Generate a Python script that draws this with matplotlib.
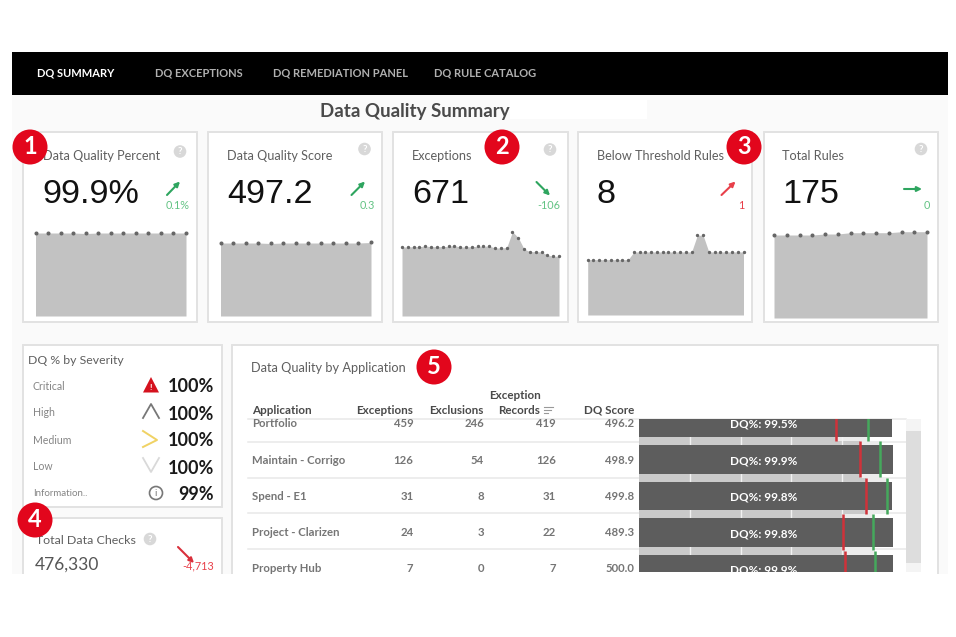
#!/usr/bin/python
# Data quality dashboard screenshot, redrawn in matplotlib

import matplotlib

matplotlib.use("Agg")
import matplotlib.pyplot as plt
from matplotlib.patches import Circle, Rectangle, Polygon

plt.rcParams['font.family'] = ['Lato', 'DejaVu Sans']

# KPI cards
kpiTitles = ['Data Quality Percent', 'Data Quality Score', 'Exceptions', 'Below Threshold Rules', 'Total Rules']
kpiValues = ['99.9%', '497.2', '671', '8', '175']
kpiDeltas = ['0.1%', '0.3', '-106', '1', '0']

# Sparkline heights
sparkPercent = [83, 83, 83, 83, 82.5, 83, 83, 83, 83, 83, 83, 83, 83]
sparkScore = [73, 73, 73, 73, 72.5, 73, 73, 73, 73, 73, 73, 73, 73.5]
sparkExceptions = [69, 69, 69.3, 69.3, 70, 69.3, 69.3, 69.3, 69.7, 70.3, 69, 69, 69.3, 69.7, 69.7, 70,
                   68, 68, 68.3, 84.3, 78.3, 67, 64.3, 64.3, 64, 61, 59.7, 59.7]
sparkBelow = [55.3, 55.3, 55.3, 55.3, 55.3, 55.3, 55.3, 55.3, 63, 63, 63, 63, 63, 63, 63, 63, 63, 63, 63,
              79.7, 79.7, 63, 63, 63, 63, 63, 63, 63]
sparkTotal = [83, 83, 83, 83, 84, 84, 85.3, 85.3, 85.3, 85.3, 86.3, 86.3, 86.3]

# Severity panel
severityNames = ['Critical', 'High', 'Medium', 'Low', 'Information..']
severityValues = ['100%', '100%', '100%', '100%', '99%']

# Application table
applications = ['Portfolio', 'Maintain - Corrigo', 'Spend - E1', 'Project - Clarizen', 'Property Hub']
exceptionCounts = [459, 126, 31, 24, 7]
exclusions = [246, 54, 8, 3, 0]
exceptionRecords = [419, 126, 31, 22, 7]
dqScores = [496.2, 498.9, 499.8, 489.3, 500.0]
dqPercents = [99.5, 99.9, 99.8, 99.8, 99.9]
barValues = [99.8, 100, 99.5, 100, 100]
redTargets = [77.6, 87.0, 89.5, 80.3, 81.2]
greenTargets = [90.2, 95.0, 97.6, 92.2, 92.9]

W, H = 956, 637
GREEN = '#2ea55f'
GREEN_TEXT = '#63c384'
RED = '#e8404a'
BADGE = '#e2061c'
CARD_EDGE = '#e2e2e2'
TITLE_GREY = '#5f5f5f'

fig = plt.figure(figsize=(W / 100, H / 100), dpi=100, facecolor='white')
page = fig.add_axes([0, 0, 1, 1])  # the whole page, in pixels
page.set_xlim(0, W)
page.set_ylim(H, 0)
page.axis('off')


def box(x0, y0, x1, y1, face='white', edge=CARD_EDGE, lw=1.4, z=1):
    page.add_patch(Rectangle((x0, y0), x1 - x0, y1 - y0, facecolor=face, edgecolor=edge, linewidth=lw, zorder=z))


def helpIcon(x, y):
    page.add_patch(Circle((x, y), 6.3, facecolor='#d8d8d8', edgecolor='none', zorder=3))
    page.text(x, y, '?', color='white', fontsize=7, fontweight='bold', ha='center', va='center', zorder=4)


def badge(x, y, label):
    page.add_patch(Circle((x, y), 17.5, facecolor=BADGE, edgecolor='none', zorder=8))
    page.text(x, y - 0.5, label, color='white', fontsize=17, fontweight='bold', ha='center', va='center', zorder=9)


def trend(x0, y0, x1, y1, color):
    page.annotate('', xy=(x1, y1), xytext=(x0, y0), zorder=5,
                  arrowprops=dict(arrowstyle='-|>', color=color, lw=1.5, mutation_scale=7, shrinkA=0, shrinkB=0))


def spark(x0, x1, bottom, values):
    height = 95
    ax = fig.add_axes([x0 / W, 1 - bottom / H, (x1 - x0) / W, height / H], zorder=2)
    ax.patch.set_alpha(0)
    xs = list(range(len(values)))
    size = 1.9 if len(values) < 20 else 1.4
    ax.fill_between(xs, values, 0, color='#c2c2c2', linewidth=0)
    ax.plot(xs, values, linestyle='none', marker='o', markersize=size, color='#666666', clip_on=False)
    ax.set_xlim(0, len(values) - 1)
    ax.set_ylim(0, height)
    ax.axis('off')


# Page background and nav bar
page.add_patch(Rectangle((12, 94), 936, 480, facecolor='#fafafa', edgecolor='none', zorder=0))
page.add_patch(Rectangle((12.5, 52), 935.5, 42.5, facecolor='black', edgecolor='none', zorder=1))
navLabels = ['DQ SUMMARY', 'DQ EXCEPTIONS', 'DQ REMEDIATION PANEL', 'DQ RULE CATALOG']
navX = [37.5, 155, 273, 434]
for i in range(4):
    page.text(navX[i], 73, navLabels[i], color='white' if i == 0 else '#b0b0b0', fontsize=8,
              fontweight='bold', va='center', zorder=2)

page.add_patch(Rectangle((510, 100), 137, 19, facecolor='white', edgecolor='none', zorder=1))
page.text(415, 111.5, 'Data Quality Summary', color='#4a4a4a', fontsize=13.5, fontweight='bold',
          ha='center', va='center', zorder=2)

# KPI cards
cardX = [(23.5, 197), (208.5, 382), (393, 568), (578, 752), (764, 938)]
titleX = [43, 227, 412, 597, 782]
valueX = [42, 227, 412, 597, 782]
deltaRight = [190, 375, 560, 744.5, 930]
helpPos = [(180, 151.5), (364.5, 149), (550, 149.5), None, (921, 149)]
arrows = [(167, 195, 180, 181.5), (351.5, 195, 365, 181.5), (536.5, 182, 550, 195.5),
          (721.5, 195, 735.5, 181.5), (904, 189, 922, 189)]
sparkX = [(35.5, 186), (220.5, 371), (402, 559), (587.7, 743.5), (774, 927)]
sparkBottom = [316, 316, 316, 315, 318]
sparkData = [sparkPercent, sparkScore, sparkExceptions, sparkBelow, sparkTotal]
for i in range(5):
    box(cardX[i][0], 132, cardX[i][1], 322)
    page.text(titleX[i], 155.5, kpiTitles[i], color=TITLE_GREY, fontsize=9.1, va='center', zorder=3)
    page.text(valueX[i], 194.5, kpiValues[i], color='#111111', fontsize=24.6, va='center', zorder=3,
              family=['Liberation Sans', 'DejaVu Sans'])
    badColor = i == 3
    page.text(deltaRight[i], 205.5, kpiDeltas[i], color=RED if badColor else GREEN_TEXT, fontsize=7.8,
              ha='right', va='center', zorder=3)
    if helpPos[i] is not None:
        helpIcon(helpPos[i][0], helpPos[i][1])
    a = arrows[i]
    trend(a[0], a[1], a[2], a[3], RED if badColor else GREEN)
    spark(sparkX[i][0], sparkX[i][1], sparkBottom[i], sparkData[i])

# DQ % by severity
box(23, 345, 222, 507)
page.text(28, 360, 'DQ % by Severity', color=TITLE_GREY, fontsize=8.8, va='center', zorder=3)
severityY = [386, 413, 440, 467, 493]
for i in range(5):
    page.text(33, severityY[i], severityNames[i], color='#858585', fontsize=7.6 if i < 4 else 7, va='center', zorder=3)
    page.text(214, severityY[i] + 1, severityValues[i], color='#1a1a1a', fontsize=13, fontweight='bold',
              ha='right', va='center', zorder=3)
# severity icons
page.add_patch(Polygon([(143, 392.5), (159, 392.5), (151, 377)], closed=True, facecolor='#d5121e', edgecolor='none', zorder=3))
page.text(151, 387.5, '!', color='white', fontsize=6, fontweight='bold', ha='center', va='center', zorder=4)
page.plot([143, 151, 159], [418, 404, 418], color='#777777', lw=1.3, zorder=3)
page.plot([143, 157, 143], [431, 440, 447], color='#f0d264', lw=1.4, zorder=3)
page.plot([143, 151, 159], [458, 472, 458], color='#d9d9d9', lw=1.3, zorder=3)
page.add_patch(Circle((156, 493), 6.5, facecolor='white', edgecolor='#777777', linewidth=1.2, zorder=3))
page.text(156, 493, 'i', color='#777777', fontsize=7, ha='center', va='center', zorder=4)

# Total data checks
box(23, 518, 222, 590)
page.text(36, 541, 'Total Data Checks', color=TITLE_GREY, fontsize=8.9, va='center', zorder=3)
helpIcon(150, 539)
page.text(34.5, 565, '476,330', color='#555555', fontsize=12.5, va='center', zorder=3)
trend(178, 547, 194, 563, '#d9303c')
page.text(214, 566, '-4,713', color=RED, fontsize=7.8, ha='right', va='center', zorder=3)

# Data quality by application
box(232.5, 345, 938, 590)
page.text(251, 367.5, 'Data Quality by Application', color=TITLE_GREY, fontsize=9.2, va='center', zorder=3)

headY = 410
page.text(252.5, headY, 'Application', color='#4a4a4a', fontsize=8.4, fontweight='bold', va='center', zorder=3)
page.text(413.5, headY, 'Exceptions', color='#4a4a4a', fontsize=8.4, fontweight='bold', ha='right', va='center', zorder=3)
page.text(484, headY, 'Exclusions', color='#4a4a4a', fontsize=8.4, fontweight='bold', ha='right', va='center', zorder=3)
page.text(515.5, 395.5, 'Exception', color='#4a4a4a', fontsize=8.4, fontweight='bold', ha='center', va='center', zorder=3)
page.text(540.5, headY, 'Records', color='#4a4a4a', fontsize=8.4, fontweight='bold', ha='right', va='center', zorder=3)
page.text(634, headY, 'DQ Score', color='#4a4a4a', fontsize=8.4, fontweight='bold', ha='right', va='center', zorder=3)
# the little sort icon next to Records
page.plot([544, 553], [407, 407], color='#999999', lw=0.8, zorder=3)
page.plot([544, 551], [410, 410], color='#999999', lw=0.8, zorder=3)
page.plot([544, 548], [413, 413], color='#999999', lw=0.8, zorder=3)

for lineY in [418.5, 441.7, 477.7, 513.3, 549]:
    page.plot([248, 906], [lineY, lineY], color='#e8e8e8', lw=1.1, zorder=2)

# the table body scrolls, rows are cut at the top and bottom of this window
scrollClip = Rectangle((240, 419), 700, 153, transform=page.transData)
rowY = [423.5, 460, 496.5, 532.5, 568.5]
for i in range(5):
    cells = [(252.5, applications[i], 'left'), (413.5, str(exceptionCounts[i]), 'right'), (484, str(exclusions[i]), 'right'),
             (556, str(exceptionRecords[i]), 'right'), (634, '%.1f' % dqScores[i], 'right')]
    for cell in cells:
        t = page.text(cell[0], rowY[i], cell[1], color='#757575', fontsize=8.2, fontweight='bold',
                      ha=cell[2], va='center', zorder=3)
        t.set_clip_path(scrollClip)

# bullet bars
bars = fig.add_axes([639 / W, 1 - 572 / H, 254 / W, 153 / H], zorder=3)
bars.patch.set_alpha(0)
rows = list(range(5))
bars.barh(rows, greenTargets, height=1.0, color='#ececec', zorder=1)
bars.barh(rows, redTargets, height=1.0, color='#cacaca', zorder=1.5)
bars.vlines([20, 40, 60, 80], -0.5, 4.5, color='#f2f2f2', lw=1, zorder=2)
bars.barh(rows, barValues, height=0.77, color='#5d5d5d', zorder=3)
for i in rows:
    bars.vlines(redTargets[i], i - 0.5, i + 0.49, color='#d0323a', lw=1.8, zorder=4)
    bars.vlines(greenTargets[i], i - 0.5, i + 0.49, color='#45a85c', lw=1.8, zorder=4)
    bars.text(49.2, i + 0.03, 'DQ%%: %.1f%%' % dqPercents[i], color='white', fontsize=8.5, fontweight='bold',
              ha='center', va='center', zorder=5, clip_on=True)
bars.set_xlim(0, 100)
bars.set_ylim((572 - 423) / 36.5, (419 - 423) / 36.5)
bars.axis('off')

# scrollbar
page.add_patch(Rectangle((906.5, 419), 14.5, 153, facecolor='#f4f4f4', edgecolor='none', zorder=2))
page.add_patch(Rectangle((906.5, 431), 14.5, 132, facecolor='#dddddd', edgecolor='none', zorder=3))

# numbered badges
badge(30, 147, '1')
badge(502, 147, '2')
badge(744, 147, '3')
badge(35, 520, '4')
badge(434, 367, '5')

# the screenshot stops here, cover what runs past it
page.add_patch(Rectangle((0, 574), W, H - 574, facecolor='white', edgecolor='none', zorder=10))

fig.savefig('out.png', dpi=100)
